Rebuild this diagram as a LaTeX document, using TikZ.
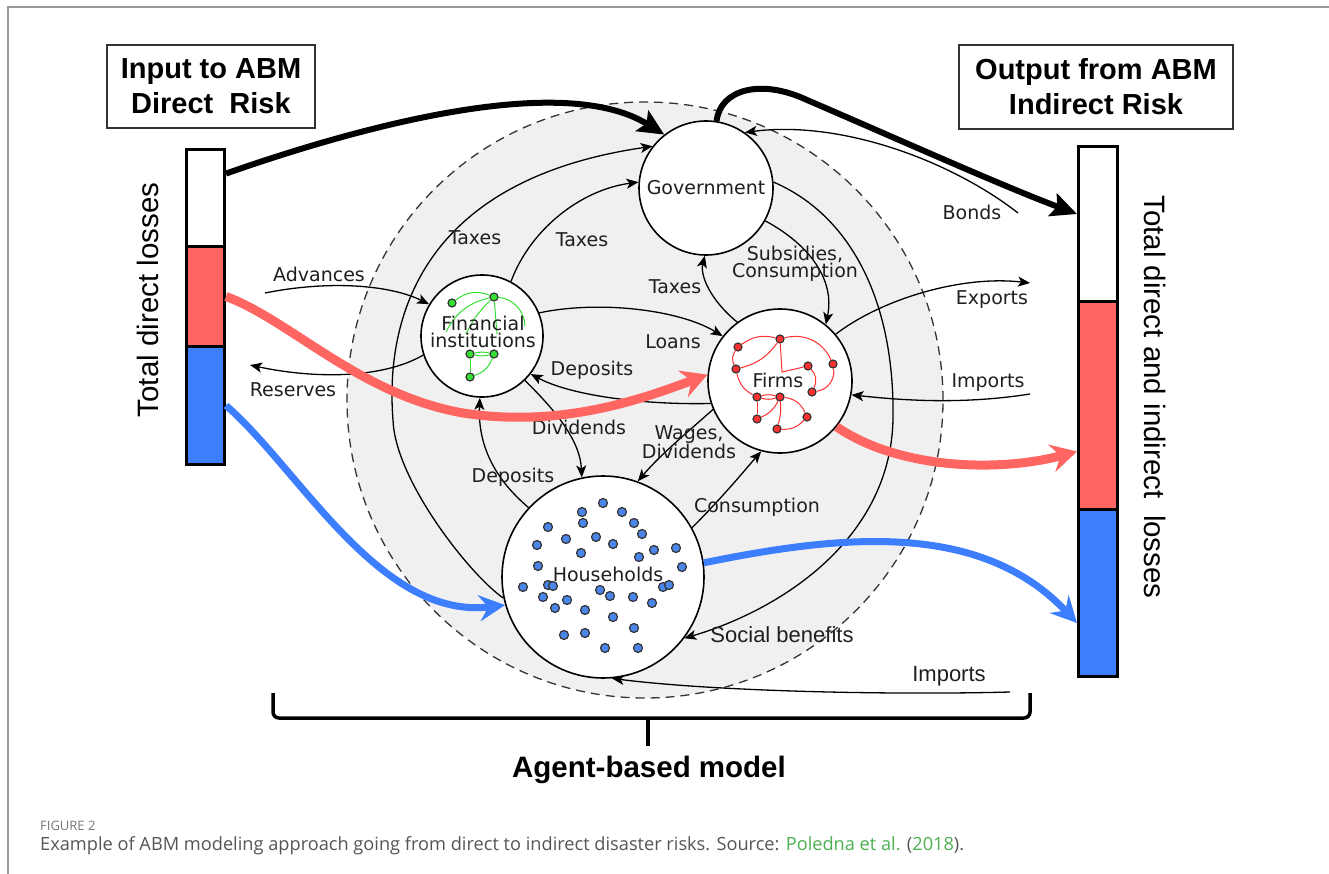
\documentclass[tikz,border=0pt]{standalone}
\usepackage{fontspec}
\setmainfont{DejaVu Sans}
\newfontfamily\arialf{Liberation Sans}
\newfontfamily\capf{Open Sans}
\usetikzlibrary{arrows.meta,calc}
\definecolor{redc}{HTML}{FF6561}
\definecolor{bluec}{HTML}{3D7EFF}
\definecolor{hhblue}{HTML}{4A86E8}
\definecolor{netred}{HTML}{FF3030}
\definecolor{netgreen}{HTML}{33E033}
\definecolor{capgray}{HTML}{555555}
\definecolor{capgrayb}{HTML}{777777}
\definecolor{capgreen}{HTML}{4CAF50}
\definecolor{abmgray}{HTML}{F0F0F0}
\definecolor{framec}{HTML}{999999}
\tikzset{
  abmcirc/.style={circle, draw=black!80, dash pattern=on 9pt off 6pt, fill=abmgray, line width=1.3pt, inner sep=0},
  agent/.style={circle, draw=black, line width=1.6pt, fill=white, inner sep=0},
  lblf/.style={font=\fontsize{19}{16}\selectfont, align=center, text=black!88},
  lbl/.style={lblf, inner sep=0},
  lbltwo/.style={font=\arialf\fontsize{22}{24}\selectfont, inner sep=0, text=black!88},
  flow/.style={line width=1.3pt, -{Stealth[length=12pt,width=10pt,inset=3pt]}},
  thickarr/.style={line width=6pt, -{Stealth[length=26pt,width=24pt,inset=5pt]}},
  redarr/.style={line width=9pt, draw=redc, -{Stealth[length=26pt,width=28pt,inset=9pt]}},
  bluearr/.style={line width=7pt, draw=bluec, -{Stealth[length=26pt,width=26pt,inset=9pt]}},
  titlebox/.style={draw=black!80, line width=1.3pt, fill=white, align=center, inner sep=0, font=\arialf\bfseries\fontsize{29}{35}\selectfont},
  barseg/.style={draw=black, line width=3pt, inner sep=0, anchor=north west},
  hdot/.style={circle, draw=black!80, fill=hhblue, line width=1.2pt, minimum size=9pt, inner sep=0},
  gdot/.style={circle, draw=black!80, fill=netgreen, line width=1.2pt, minimum size=8pt, inner sep=0},
  rdot/.style={circle, draw=black!80, fill=netred, line width=1.2pt, minimum size=8pt, inner sep=0},
  gedge/.style={draw=netgreen, line width=1pt},
  redge/.style={draw=netred, line width=1pt},
}
\begin{document}
\begin{tikzpicture}[x=1pt,y=-1pt]
\useasboundingbox (0,0) rectangle (1329,874);
\draw[framec, line width=1.5pt] (8,874) -- (8,7) -- (1329,7);

% agent-based model area
\node[abmcirc, minimum size=596pt] (abm) at (645,400) {};

% title boxes
\node[titlebox, minimum width=208pt, minimum height=83pt] (inbox) at (211,86.5) {Input to ABM\\Direct\ \ Risk};
\node[titlebox, minimum width=274pt, minimum height=84pt] (outbox) at (1096,87) {Output from ABM\\Indirect Risk};

% bars
\node[barseg, fill=white, minimum width=38pt, minimum height=97pt] (lw) at (185,148) {};
\node[barseg, fill=redc, minimum width=38pt, minimum height=100pt] (lr) at (185,245) {};
\node[barseg, fill=bluec, minimum width=38pt, minimum height=118pt] (lb) at (185,345) {};
\node[barseg, fill=white, minimum width=39pt, minimum height=155pt] (rw) at (1077,145) {};
\node[barseg, fill=redc, minimum width=39pt, minimum height=208pt] (rr) at (1077,300) {};
\node[barseg, fill=bluec, minimum width=39pt, minimum height=167pt] (rb) at (1077,508) {};
\node[rotate=90, inner sep=0, font=\arialf\fontsize{29.5}{30}\selectfont] (ltxt) at (148,300) {Total direct losses};
\node[rotate=-90, inner sep=0, font=\arialf\fontsize{29.5}{30}\selectfont] (rtxt) at (1155,397) {Total direct and indirect\ \ losses};

% agents
\node[agent, lblf, minimum size=134pt] (gov) at (706,188) {Government};
\node[agent, minimum size=122pt] (fi) at (482,336) {};
\node[agent, minimum size=144pt] (firms) at (780,381) {};
\node[agent, minimum size=202pt] (hh) at (603,577) {};

% free ends
\coordinate (cAdv) at (265,293);
\coordinate (cRes) at (250,365);
\coordinate (cBonds) at (1018,213);
\coordinate (cExp) at (1030,283);
\coordinate (cImp) at (1030,394);
\coordinate (cImpB) at (1010,692);

% thin flows
\draw[flow] (hh.192) .. controls (470,575) and (395,480) .. (393,420) .. controls (385,320) and (420,180) .. (gov.142);
\draw[flow] (fi.62) .. controls (530,230) and (580,190) .. (gov.175);
\draw[flow] (cAdv) .. controls (330,280) and (390,285) .. (fi.149);
\draw[flow] (fi.198) .. controls (380,380) and (310,378) .. (cRes);
\draw[flow] (fi.22) .. controls (600,300) and (680,310) .. (firms.142);
\draw[flow] (firms.198) .. controls (640,405) and (570,395) .. (fi.-38);
\draw[flow] (fi.-46) .. controls (555,410) and (580,440) .. (hh.102);
\draw[flow] (hh.137) .. controls (490,475) and (478,440) .. (fi.268);
\draw[flow] (firms.203) .. controls (690,430) and (660,455) .. (hh.70);
\draw[flow] (hh.29) .. controls (720,500) and (745,470) .. (firms.-105);
\draw[flow] (firms.126) .. controls (710,300) and (700,275) .. (gov.269);
\draw[flow] (gov.-29) .. controls (810,245) and (835,280) .. (firms.51);
\draw[flow] (gov.5) .. controls (850,215) and (895,300) .. (893,420) .. controls (890,540) and (780,610) .. (hh.-37);
\draw[flow] (cBonds) .. controls (950,160) and (840,120) .. (gov.55);
\draw[flow] (firms.40) .. controls (880,300) and (960,275) .. (cExp);
\draw[flow] (cImp) .. controls (960,405) and (900,400) .. (firms.-11);
\draw[flow] (cImpB) .. controls (900,695) and (720,692) .. (hh.-85);

% flow labels
\node[lbl] (tx1) at (475,238) {Taxes};
\node[lbl] (tx2) at (582,240) {Taxes};
\node[lbl] (tx3) at (675,287) {Taxes};
\node[lbl] (advl) at (319,274) {Advances};
\node[lbl] (resl) at (293,390) {Reserves};
\node[lbl] (dep1) at (592,370) {Deposits};
\node[lbl] (loans) at (673,342) {Loans};
\node[lbl, font=\fontsize{19}{17}\selectfont] (subs) at (795,264) {Subsidies,\\Consumption};
\node[lbl] (bonds) at (972,212) {Bonds};
\node[lbl] (expl) at (992,300) {Exports};
\node[lbl] (impl) at (988,383) {Imports};
\node[lbl] (div) at (579,427) {Dividends};
\node[lbl, font=\fontsize{19}{17}\selectfont] (wages) at (689,442) {Wages,\\Dividends};
\node[lbl] (dep2) at (513,477) {Deposits};
\node[lbl] (cons) at (757,507) {Consumption};
\node[lbltwo] (soc) at (782,635) {Social benefits};
\node[lbltwo] (impb) at (949,676) {Imports};

% green network (financial institutions)
\node[gdot] (g1) at (452,303) {};
\node[gdot] (g2) at (494,297) {};
\node[gdot] (g3) at (470,354) {};
\node[gdot] (g4) at (494,354) {};
\node[gdot] (g5) at (470,377) {};
\draw[gedge] (g2) to[bend right=30] (g1);
\draw[gedge] (g2) to[bend right=25] (446,332);
\draw[gedge] (g2) to[bend right=10] (466,334);
\draw[gedge] (g2) -- (497,334);
\draw[gedge] (g2) to[bend left=40] (525,326);
\draw[gedge] (g3) to[bend left=12] (g4);
\draw[gedge] (g3) to[bend right=12] (g4);
\draw[gedge] (g3) -- (g5);
\draw[gedge] (g4) to[bend left=25] (g5);
\node[lbl, font=\fontsize{19}{17}\selectfont] (fil) at (483,332) {Financial\\institutions};

% red network (firms)
\node[rdot] (f1) at (738,347) {};
\node[rdot] (f2) at (780,339) {};
\node[rdot] (f3) at (736,369) {};
\node[rdot] (f4) at (808,366) {};
\node[rdot] (f5) at (833,364) {};
\node[rdot] (f6) at (812,392) {};
\node[rdot] (f7) at (757,397) {};
\node[rdot] (f8) at (780,397) {};
\node[rdot] (f9) at (757,419) {};
\node[rdot] (f10) at (807,417) {};
\node[rdot] (f11) at (777,429) {};
\draw[redge] (f2) to[bend right=25] (f1);
\draw[redge] (f2) to[bend left=20] (f3);
\draw[redge] (f1) to[bend right=30] (f3);
\draw[redge] (f2) -- (782,372) -- (f4);
\draw[redge] (f2) to[bend left=40] (f5);
\draw[redge] (f4) to[bend left=35] (f6);
\draw[redge] (f5) to[bend left=45] (f6);
\draw[redge] (f7) to[bend left=15] (f8);
\draw[redge] (f7) to[bend right=15] (f8);
\draw[redge] (f7) -- (f9);
\draw[redge] (f8) to[bend left=20] (f9);
\draw[redge] (f8) to[bend left=30] (f10);
\draw[redge] (f10) to[bend left=25] (f11);
\draw[redge] (f8) to[bend left=10] (f11);
\draw[redge] (f3) to[bend right=25] (f7);
\node[lbl] (firmsl) at (778,380) {Firms};

% households
\foreach \x/\y [count=\i] in {603/503,582/512,622/512,583/523,634/523,548/527,642/534,566/539,596/537,613/544,537/545,654/550,676/548,581/553,639/557,538/566,682/567,523/587,548/585,553/586,663/587,669/585,543/597,567/600,600/590,610/596,633/597,555/608,585/610,652/603,613/617,564/635,585/633,634/628,605/648,638/648}
  \node[hdot] (h\i) at (\x,\y) {};
\node[lbl] (hhl) at (608,574) {Households};

% thick arrows
\draw[thickarr] (lw.50) .. controls (350,130) and (560,70) .. (gov.128);
\draw[thickarr] (gov.81) .. controls (720,90) and (760,78) .. (807,100) .. controls (900,140) and (1000,185) .. ($(rw.west)+(0,-10)$);
\draw[redarr] (lr.east) .. controls (290,320) and (360,395) .. (463,413) .. controls (560,428) and (640,400) .. (firms.175);
\draw[redarr] (firms.-39) .. controls (900,470) and (1000,472) .. ($(rr.west)+(0,46)$);
\draw[bluearr] (lb.east) .. controls (300,470) and (380,620) .. (hh.196);
\draw[bluearr] (hh.8) .. controls (840,535) and (980,520) .. ($(rb.west)+(0,30)$);

% brace
\draw[line width=3.5pt, rounded corners=6pt] (273,693) -- (273,718) -- (1030,718) -- (1030,693);
\draw[line width=3.5pt] (648,718) -- (648,746);
\node[inner sep=0, font=\arialf\bfseries\fontsize{29.5}{30}\selectfont] (abml) at (649,770) {Agent-based model};

% caption
\node[anchor=west, inner sep=0, font=\capf\fontsize{13}{14}\selectfont, text=capgrayb] (figl) at (40,826) {FIGURE 2};
\node[anchor=west, inner sep=0, font=\capf\fontsize{18.2}{22}\selectfont, text=capgray] (capt) at (40,846) {Example of ABM modeling approach going from direct to indirect disaster risks. Source: \textcolor{capgreen}{Poledna et al.} (\textcolor{capgreen}{2018}).};
\end{tikzpicture}
\end{document}
